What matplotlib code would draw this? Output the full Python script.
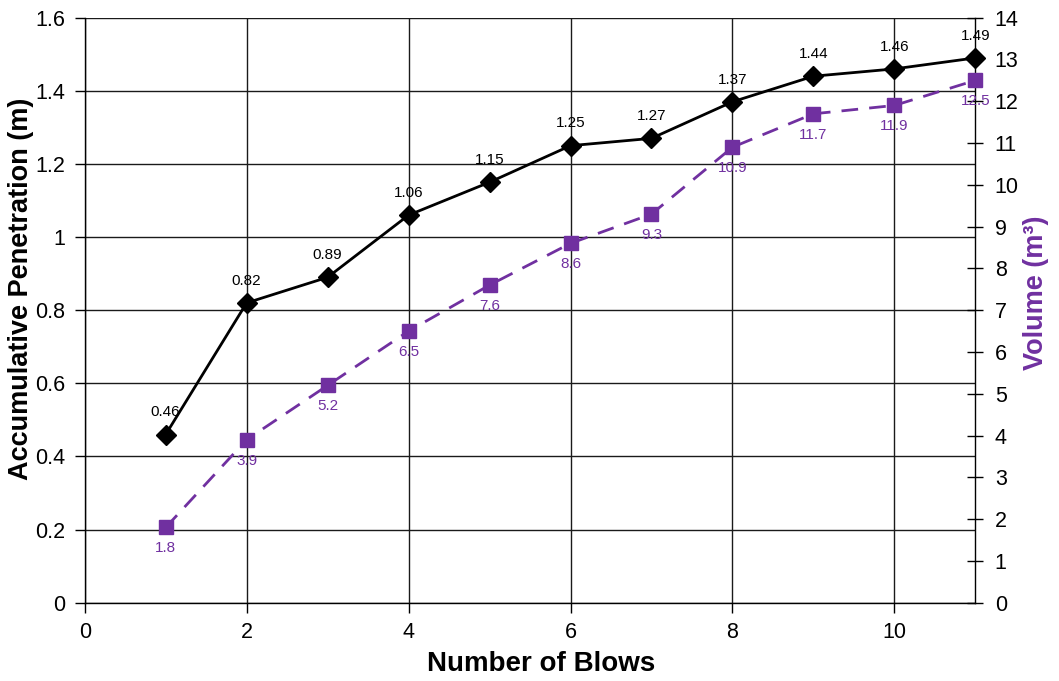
import matplotlib
matplotlib.use("Agg")
import matplotlib.pyplot as plt
from matplotlib.ticker import MultipleLocator, FuncFormatter

plt.rcParams['font.family'] = ['Liberation Sans', 'DejaVu Sans']

blows = [1, 2, 3, 4, 5, 6, 7, 8, 9, 10, 11]
penetration = [0.46, 0.82, 0.89, 1.06, 1.15, 1.25, 1.27, 1.37, 1.44, 1.46, 1.49]
volume = [1.8, 3.9, 5.2, 6.5, 7.6, 8.6, 9.3, 10.9, 11.7, 11.9, 12.5]

purple = '#7030A0'

fig = plt.figure(figsize=(10.59, 6.81), dpi=100)
ax = fig.add_axes([0.080, 0.115, 0.841, 0.859])
ax2 = ax.twinx()

ax.set_xlim(0, 11)
ax.set_ylim(0, 1.6)
ax2.set_ylim(0, 14)

ax.xaxis.set_major_locator(MultipleLocator(2))
ax.yaxis.set_major_locator(MultipleLocator(0.2))
ax2.yaxis.set_major_locator(MultipleLocator(1))

def fmt(v, pos):
    s = f"{v:.1f}"
    if s.endswith('.0'):
        s = s[:-2]
    return s

ax.yaxis.set_major_formatter(FuncFormatter(fmt))

ax.grid(True, color='#1a1a1a', linewidth=1.0)
ax.set_axisbelow(True)
for side in ['top', 'right']:
    ax.spines[side].set_visible(False)
for side in ['top', 'left', 'bottom']:
    ax2.spines[side].set_visible(False)
ax.spines['left'].set_linewidth(1.0)
ax.spines['bottom'].set_linewidth(1.0)
ax2.spines['right'].set_linewidth(1.0)

ax.tick_params(axis='y', direction='out', length=7, width=1.0, labelsize=15.5, colors='black', pad=7)
ax.tick_params(axis='x', direction='out', length=7, width=1.0, labelsize=15.5, colors='black', pad=7)
ax2.tick_params(axis='y', direction='inout', length=12, width=1.0, labelsize=15.5, pad=8)

ax.plot(blows, penetration, color='black', linewidth=2.0, marker='D', markersize=10, zorder=5, clip_on=False)
ax2.plot(blows, volume, color=purple, linewidth=2.0, linestyle=(0, (6, 4)), marker='s', markersize=9.5, zorder=5, clip_on=False)

for x, y in zip(blows, penetration):
    ax.annotate(f"{y:.2f}", (x, y), xytext=(0, 11), textcoords='offset points',
                ha='center', va='bottom', fontsize=11, color='black', zorder=6)
for x, y in zip(blows, volume):
    ax2.annotate(f"{y:.1f}", (x, y), xytext=(0, -10), textcoords='offset points',
                 ha='center', va='top', fontsize=11, color=purple, zorder=6)

ax.set_xlabel('Number of Blows', fontsize=20, fontweight='bold')
ax.set_ylabel('Accumulative Penetration (m)', fontsize=19.5, fontweight='bold')
ax2.set_ylabel('Volume (m³)', fontsize=19.5, fontweight='bold', color=purple)

ax.xaxis.set_label_coords(0.512, -0.083)
ax.yaxis.set_label_coords(-0.057, 0.537)
ax2.yaxis.set_label_coords(1.054, 0.53)

fig.savefig('out.png', dpi=100)
